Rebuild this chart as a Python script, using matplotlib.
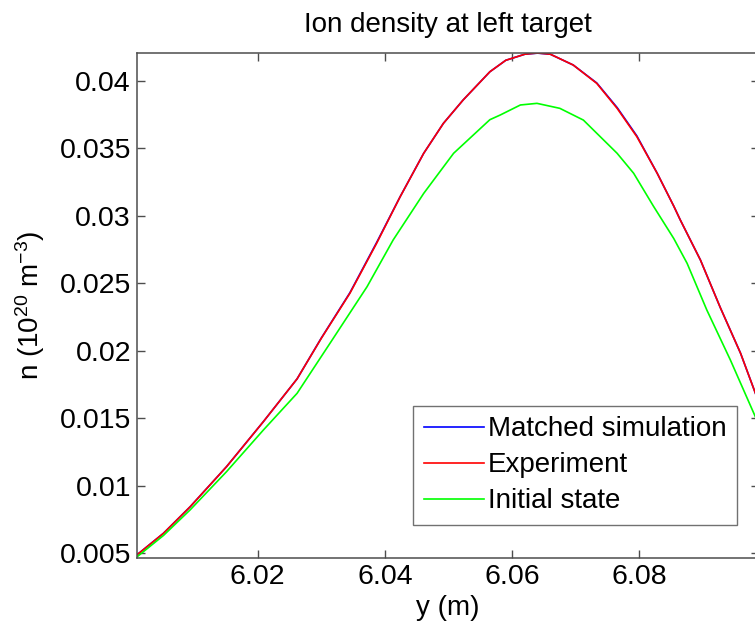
import matplotlib
matplotlib.use('Agg')
import matplotlib.pyplot as plt

plt.rcParams['font.family'] = ['Liberation Sans', 'DejaVu Sans']
plt.rcParams['mathtext.default'] = 'regular'

# values
y_exp = [6.0010, 6.0052, 6.0094, 6.0151, 6.0209, 6.0262, 6.0300, 6.0345, 6.0387,
         6.0424, 6.0461, 6.0492, 6.0523, 6.0565, 6.0590, 6.0620, 6.0640, 6.0660,
         6.0696, 6.0733, 6.0765, 6.0796, 6.0828, 6.0854, 6.0864, 6.0896, 6.0927,
         6.0959, 6.0985]
n_exp = [0.00485, 0.00646, 0.00843, 0.01139, 0.01473, 0.01790, 0.02090, 0.02424, 0.02794,
         0.03139, 0.03461, 0.03683, 0.03856, 0.04065, 0.04150, 0.04195, 0.04204, 0.04195,
         0.04115, 0.03979, 0.03794, 0.03584, 0.03313, 0.03070, 0.02970, 0.02670, 0.02320,
         0.01980, 0.01650]

y_sim = y_exp
n_sim = [0.00485, 0.00646, 0.00843, 0.01139, 0.01473, 0.01790, 0.02092, 0.02428, 0.02800,
         0.03140, 0.03461, 0.03683, 0.03856, 0.04065, 0.04150, 0.04195, 0.04203, 0.04195,
         0.04115, 0.03982, 0.03800, 0.03590, 0.03313, 0.03070, 0.02970, 0.02670, 0.02320,
         0.01980, 0.01650]

y_init = [6.0010, 6.0052, 6.0094, 6.0151, 6.0209, 6.0262, 6.0316, 6.0372, 6.0413,
          6.0461, 6.0508, 6.0565, 6.0581, 6.0613, 6.0639, 6.0675, 6.0712, 6.0765,
          6.0791, 6.0822, 6.0854, 6.0875, 6.0906, 6.0943, 6.0985]
n_init = [0.00470, 0.00630, 0.00820, 0.01102, 0.01411, 0.01683, 0.02070, 0.02473, 0.02819,
          0.03164, 0.03461, 0.03710, 0.03744, 0.03819, 0.03831, 0.03794, 0.03707, 0.03461,
          0.03313, 0.03070, 0.02830, 0.02646, 0.02300, 0.01930, 0.01480]

xticks = [6.02, 6.04, 6.06, 6.08]
xticklabels = ['6.02', '6.04', '6.06', '6.08']
yticks = [0.005, 0.01, 0.015, 0.02, 0.025, 0.03, 0.035, 0.04]
yticklabels = ['0.005', '0.01', '0.015', '0.02', '0.025', '0.03', '0.035', '0.04']

fig = plt.figure(figsize=(7.55, 6.3), dpi=100)
ax = fig.add_axes([136.5/755, 72/630, 622.5/755, 505/630])

ax.plot(y_sim, n_sim, color='#0000ff', lw=1.2, label='Matched simulation')
ax.plot(y_exp, n_exp, color='#ff0000', lw=1.2, label='Experiment')
ax.plot(y_init, n_init, color='#00ff00', lw=1.2, label='Initial state')

ax.set_xlim(6.00096, 6.0988)
ax.set_ylim(0.00463, 0.04204)
ax.set_xticks(xticks, xticklabels)
ax.set_yticks(yticks, yticklabels)
ax.tick_params(direction='in', top=True, right=True, length=5.5, width=1,
               labelsize=20.5, color='0.3', pad=4)
for s in ax.spines.values():
    s.set_color('0.3')
    s.set_linewidth(1.1)

ax.set_title('Ion density at left target', fontsize=20, pad=15)
ax.set_xlabel('y (m)', fontsize=20, labelpad=4)
ax.set_ylabel('n (10$^{20}$ m$^{-3}$)', fontsize=20, labelpad=9)

leg = ax.legend(loc='lower right', bbox_to_anchor=(0.9647, 0.0653), fontsize=20,
                frameon=True, fancybox=False, borderpad=0.38, labelspacing=0.36,
                handlelength=2.16, handletextpad=0.15, borderaxespad=0)
leg.get_frame().set_edgecolor('0.3')
leg.get_frame().set_linewidth(1.0)

plt.savefig('out.png', dpi=100)
plt.close()
